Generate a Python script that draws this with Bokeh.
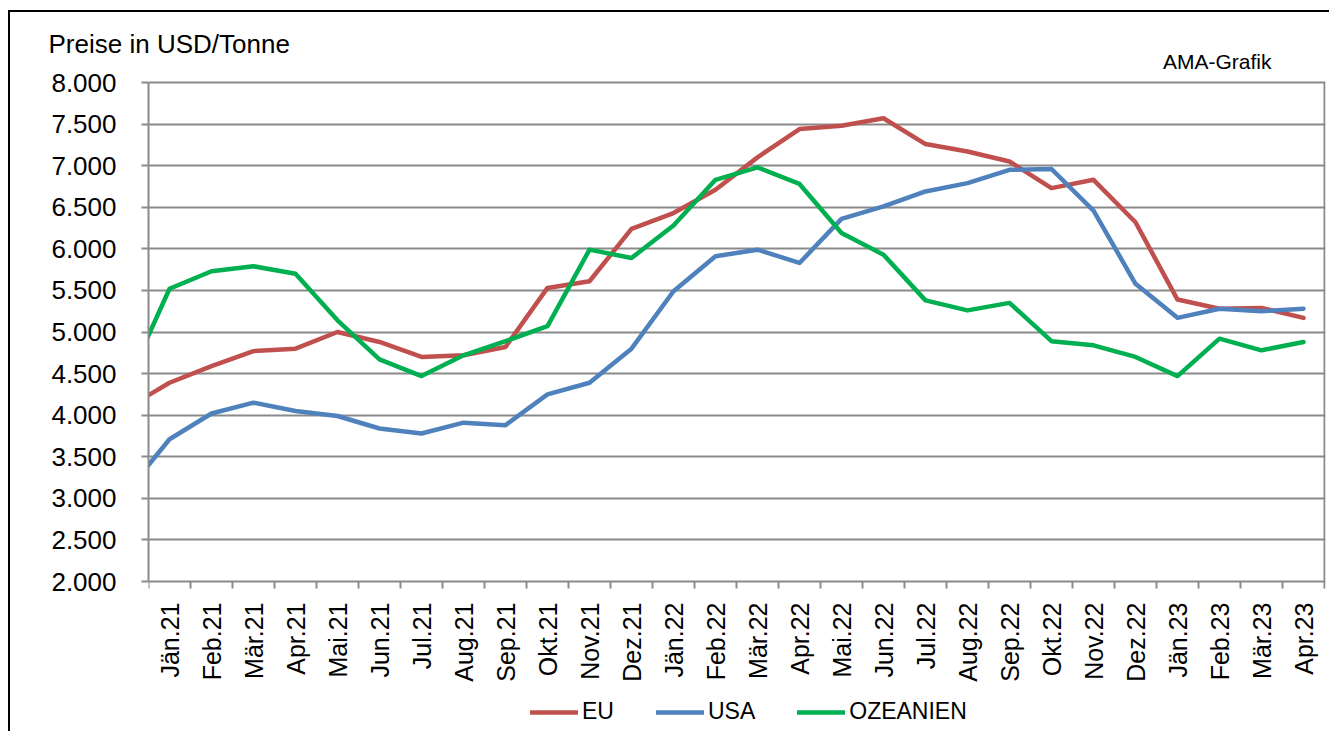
import math
from bokeh.plotting import figure
from bokeh.models import Range1d, FixedTicker, Legend, LegendItem, Title
from bokeh.core.properties import value
from bokeh.embed import file_html
from bokeh.resources import INLINE

# ---- data (USD per tonne); the first month lies left of the visible axis ----
months = ["Dez.20",
          "Jän.21", "Feb.21", "Mär.21", "Apr.21", "Mai.21", "Jun.21", "Jul.21",
          "Aug.21", "Sep.21", "Okt.21", "Nov.21", "Dez.21",
          "Jän.22", "Feb.22", "Mär.22", "Apr.22", "Mai.22", "Jun.22", "Jul.22",
          "Aug.22", "Sep.22", "Okt.22", "Nov.22", "Dez.22",
          "Jän.23", "Feb.23", "Mär.23", "Apr.23"]

eu = [4090,
      4390, 4590, 4770, 4800, 5000, 4880, 4700, 4720, 4820, 5530, 5610, 6240,
      6430, 6710, 7100, 7440, 7480, 7570, 7260, 7170, 7050, 6730, 6830, 6320,
      5390, 5280, 5290, 5170]

usa = [3090,
       3710, 4020, 4150, 4050, 3990, 3840, 3780, 3910, 3880, 4250, 4390, 4800,
       5490, 5910, 5990, 5830, 6360, 6510, 6690, 6790, 6950, 6960, 6460, 5580,
       5170, 5280, 5250, 5280]

ozeanien = [4400,
            5520, 5730, 5790, 5700, 5140, 4670, 4470, 4720, 4890, 5070, 5990, 5890,
            6280, 6830, 6980, 6780, 6190, 5930, 5380, 5260, 5350, 4890, 4840, 4700,
            4470, 4920, 4780, 4880]

series_names = ["EU", "USA", "OZEANIEN"]
series_colors = ["#C0504D", "#4F81BD", "#00B050"]

y_min, y_max, y_step = 2000, 8000, 500
y_ticks = list(range(y_min, y_max + 1, y_step))
y_tick_labels = {t: f"{t // 1000}.{t % 1000:03d}" for t in y_ticks}

y_title = "Preise in USD/Tonne"
source_note = "AMA-Grafik"

FONT = "Liberation Sans"
GRID = "#8a8a8a"

# ---- layout constants (pixels) ----
CAT_PX = 42            # width of one month
PLOT_PX = 499          # height of the 2.000 - 8.000 band
TOP_PAD_PX = 2         # room above 8.000 for the border line
BELOW_PX = 150         # room below 2.000 for month labels and legend
RIGHT_PAD_PX = 1
u = (y_max - y_min) / PLOT_PX          # data units per pixel (y)

x = list(range(len(months)))
visible = x[1:]
boundaries = [v - 0.5 for v in visible] + [visible[-1] + 0.5]

x_lo, x_hi = visible[0] - 0.5, visible[-1] + 0.5
frame_w = int(round((x_hi - x_lo) * CAT_PX)) + RIGHT_PAD_PX
frame_h = PLOT_PX + TOP_PAD_PX + BELOW_PX

p = figure(frame_width=frame_w, frame_height=frame_h,
           min_border_left=138, min_border_right=4,
           min_border_top=68, min_border_bottom=0,
           x_range=Range1d(x_lo, x_hi + RIGHT_PAD_PX / CAT_PX),
           y_range=Range1d(y_min - BELOW_PX * u, y_max + TOP_PAD_PX * u),
           x_axis_type=None,
           output_backend="svg", toolbar_location=None,
           background_fill_color="white", border_fill_color="white")
p.styles = {"margin-left": "8px", "margin-top": "10px",
            "border-left": "2px solid black", "border-top": "2px solid black"}
p.title.visible = False
p.outline_line_color = None

ya = p.yaxis[0]
ya.ticker = FixedTicker(ticks=y_ticks)
ya.bounds = (y_min, y_max)
ya.major_label_overrides = y_tick_labels
ya.major_label_text_font = FONT
ya.major_label_text_font_size = "26px"
ya.major_label_text_color = "black"
ya.major_tick_out = 7
ya.major_tick_in = 0
ya.major_tick_line_color = GRID
ya.major_tick_line_width = 2
ya.minor_tick_line_color = None
ya.axis_line_color = GRID
ya.axis_line_width = 2
ya.major_label_standoff = 25

p.ygrid.grid_line_color = GRID
p.ygrid.grid_line_width = 2

# right border of the plot area and category tick marks
p.segment(x0=[x_hi], y0=[y_min], x1=[x_hi], y1=[y_max],
          line_color=GRID, line_width=2)
p.segment(x0=boundaries, y0=[y_min] * len(boundaries),
          x1=boundaries, y1=[y_min - 7 * u] * len(boundaries),
          line_color=GRID, line_width=2)

# month labels (rotated, reading upwards)
p.text(x=visible, y=[y_min] * len(visible), text=[months[i] for i in visible],
       angle=math.pi / 2, text_align="right", text_baseline="middle",
       y_offset=21, text_font=value(FONT), text_font_size=value("25px"),
       text_color="black")

renderers = []
for vals, col in zip([eu, usa, ozeanien], series_colors):
    renderers.append(p.line(x, vals, line_color=col, line_width=4.5,
                            line_join="round", line_cap="round"))

legend = Legend(items=[LegendItem(label=n, renderers=[r]) for n, r in zip(series_names, renderers)],
                orientation="horizontal", location=(382, 6),
                label_text_font=FONT, label_text_font_size="23px",
                label_text_color="black",
                glyph_width=48, glyph_height=20, label_height=20,
                label_standoff=4, spacing=42,
                padding=0, margin=0,
                border_line_color=None, background_fill_alpha=0)
p.add_layout(legend, "center")

# texts above the plot area (first title sits next to the frame)
p.add_layout(Title(text=source_note, align="right", offset=54,
                   vertical_align="top", standoff=11,
                   text_font=FONT, text_font_size="21px",
                   text_font_style="normal", text_color="black"), "above")
p.add_layout(Title(text=y_title, align="left", offset=-100,
                   vertical_align="bottom", standoff=-28,
                   text_font=FONT, text_font_size="26px",
                   text_font_style="normal", text_color="black"), "above")

open("out.html", "w").write(file_html(p, INLINE))
